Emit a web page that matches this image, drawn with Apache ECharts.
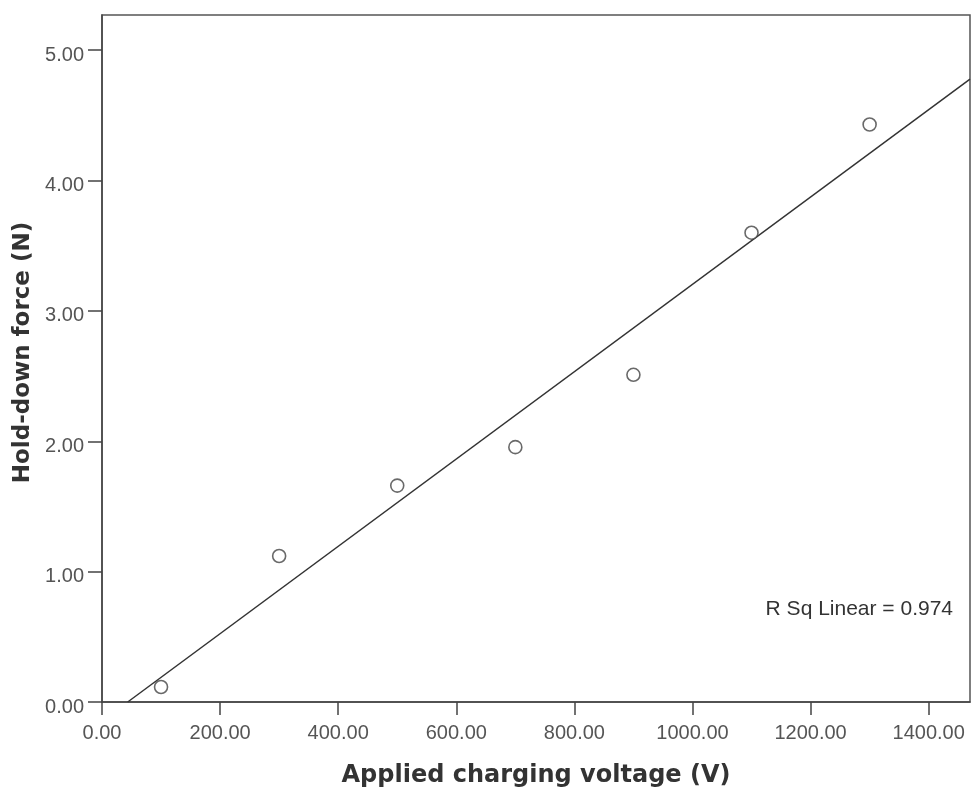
<!DOCTYPE html>
<html><head><meta charset="utf-8">
<script src="https://cdn.jsdelivr.net/npm/echarts@6/dist/echarts.min.js"></script>
<style>html,body{margin:0;padding:0;background:#fff}#c{width:973px;height:793px}</style>
</head><body><div id="c"></div>
<script>
const voltage = [100, 300, 500, 700, 900, 1100, 1300];
const force = [0.115, 1.12, 1.66, 1.955, 2.51, 3.60, 4.43];
const xTicks = [0, 200, 400, 600, 800, 1000, 1200, 1400];
const yTicks = [0, 1, 2, 3, 4, 5];
const rSqLabel = 'R Sq Linear = 0.974';

// least-squares fit
const n = voltage.length;
const mx = voltage.reduce((a,b)=>a+b,0)/n;
const my = force.reduce((a,b)=>a+b,0)/n;
let sxy=0, sxx=0;
for (let i=0;i<n;i++){ sxy += (voltage[i]-mx)*(force[i]-my); sxx += (voltage[i]-mx)**2; }
const slope = sxy/sxx, icpt = my - slope*mx;
const xMin = 0, xMax = 1470, yMin = 0, yMax = 5.27;
const x0 = -icpt/slope;
const fitLine = [[x0, 0], [xMax, icpt + slope*xMax]];

const labelFont = { fontFamily: 'Liberation Sans', fontSize: 20, color: '#555' };

const chart = echarts.init(document.getElementById('c'));
chart.setOption({
  animation: false,
  grid: { left: 102, right: 3, top: 15, bottom: 91, show: true, borderColor: '#555', borderWidth: 1.5,
    backgroundColor: '#fff', containLabel: false, outerBoundsMode: 'none' },
  xAxis: {
    type: 'value', min: xMin, max: xMax, interval: 200,
    name: 'Applied charging voltage (V)', nameLocation: 'middle', nameGap: 62,
    nameTextStyle: { fontFamily: 'DejaVu Sans', fontWeight: 'bold', fontSize: 24, color: '#333' },
    axisLine: { show: true, onZero: false, lineStyle: { color: '#444', width: 1.5 } },
    axisTick: { show: true, length: 13, lineStyle: { color: '#444', width: 1.5 } },
    axisLabel: Object.assign({ margin: 21, showMaxLabel: false, showMinLabel: true,
      formatter: v => xTicks.includes(v) ? v.toFixed(2) : '' }, labelFont),
    splitLine: { show: false }
  },
  yAxis: {
    type: 'value', min: yMin, max: yMax, interval: 1,
    name: 'Hold-down force (N)', nameLocation: 'middle', nameGap: 66,
    nameTextStyle: { fontFamily: 'DejaVu Sans', fontWeight: 'bold', fontSize: 23, color: '#333', padding: [0, 0, 0, 12] },
    axisLine: { show: true, onZero: false, lineStyle: { color: '#444', width: 1.5 } },
    axisTick: { show: true, length: 14, lineStyle: { color: '#444', width: 1.5 } },
    axisLabel: Object.assign({ margin: 18, showMaxLabel: false, verticalAlign: 'top', lineHeight: 10,
      formatter: v => yTicks.includes(v) ? v.toFixed(2) : '' }, labelFont),
    splitLine: { show: false }
  },
  series: [
    { type: 'line', data: fitLine, showSymbol: false, symbol: 'none', silent: true,
      lineStyle: { color: '#333', width: 1.5 }, z: 2 },
    { type: 'scatter', data: voltage.map((v,i)=>[v, force[i]]), symbol: 'circle', symbolSize: 13,
      itemStyle: { color: '#fff', borderColor: '#444', borderWidth: 1.6 }, z: 3 }
  ],
  graphic: [
    { type: 'text', right: 20, top: 599, style: { text: rSqLabel, fontFamily: 'Liberation Sans', fontSize: 21, fill: '#333' } }
  ]
});
</script></body></html>
